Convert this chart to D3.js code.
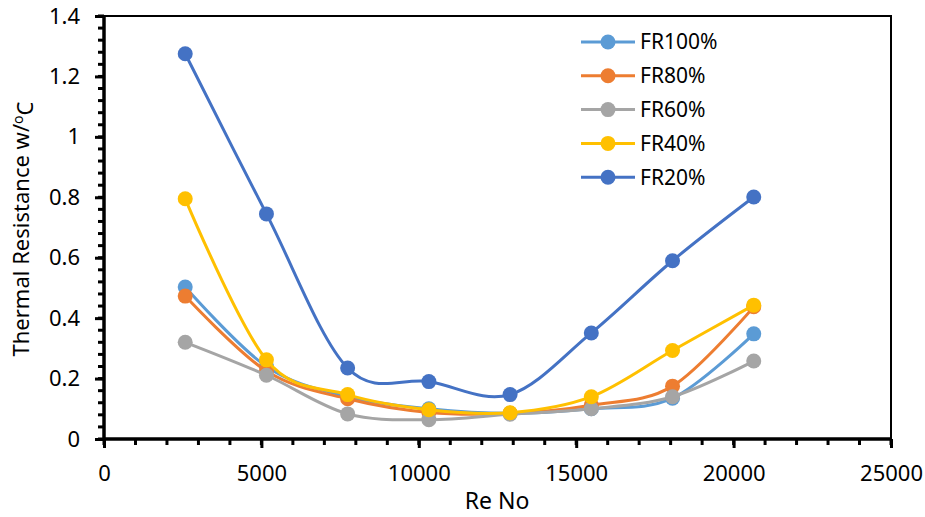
<!DOCTYPE html>
<html>
<head>
<meta charset="utf-8">
<script src="https://cdn.jsdelivr.net/npm/d3@7"></script>
<style>
  body { margin: 0; background: #fff; }
  text { font-family: "Noto Sans", sans-serif; fill: #000; }
</style>
</head>
<body>
<svg id="chart" width="925" height="517"></svg>
<script>
// data
var reNo = [2580, 5160, 7740, 10320, 12900, 15480, 18060, 20640];
var seriesNames = ["FR100%", "FR80%", "FR60%", "FR40%", "FR20%"];
var fr100 = [0.503, 0.240, 0.140, 0.100, 0.085, 0.100, 0.135, 0.348];
var fr80  = [0.473, 0.225, 0.133, 0.088, 0.085, 0.112, 0.175, 0.438];
var fr60  = [0.320, 0.211, 0.083, 0.064, 0.082, 0.100, 0.140, 0.258];
var fr40  = [0.795, 0.262, 0.147, 0.097, 0.087, 0.140, 0.293, 0.443];
var fr20  = [1.275, 0.745, 0.235, 0.190, 0.147, 0.351, 0.590, 0.801];
var xTicks = [0, 5000, 10000, 15000, 20000, 25000];
var yTicks = [0, 0.2, 0.4, 0.6, 0.8, 1, 1.2, 1.4];

var colors = ["#5B9BD5", "#ED7D31", "#A5A5A5", "#FFC000", "#4472C4"];
var allSeries = [fr100, fr80, fr60, fr40, fr20];

var svg = d3.select("#chart");
var mLeft = 104, mRight = 891, mTop = 16, mBottom = 439;

var x = d3.scaleLinear().domain([0, 25000]).range([mLeft, mRight]);
var y = d3.scaleLinear().domain([0, 1.4]).range([mBottom, mTop]);

// frame (top and right)
svg.append("path")
    .attr("d", "M" + mLeft + "," + mTop + "H" + mRight + "V" + mBottom)
    .attr("fill", "none")
    .attr("stroke", "#000")
    .attr("stroke-width", 2);

// minor ticks
var xMinor = d3.range(0, 26).map(function (i) { return i * 1000; });
var yMinor = d3.range(0, 36).map(function (i) { return i * 0.04; });

svg.selectAll(".xminor").data(xMinor).enter().append("line")
    .attr("x1", function (d) { return x(d); })
    .attr("x2", function (d) { return x(d); })
    .attr("y1", mBottom)
    .attr("y2", mBottom + 6)
    .attr("stroke", "#000").attr("stroke-width", 3);

svg.selectAll(".yminor").data(yMinor).enter().append("line")
    .attr("y1", function (d) { return y(d); })
    .attr("y2", function (d) { return y(d); })
    .attr("x1", mLeft)
    .attr("x2", mLeft - 6)
    .attr("stroke", "#000").attr("stroke-width", 3);

// axes
var xAxis = d3.axisBottom(x).tickValues(xTicks).tickSize(9).tickPadding(18).tickFormat(d3.format("d"));
var yAxis = d3.axisLeft(y).tickValues(yTicks).tickSize(9).tickPadding(15).tickFormat(function (d) { return String(+d.toFixed(1)); });

var gx = svg.append("g").attr("transform", "translate(0," + mBottom + ")").call(xAxis);
var gy = svg.append("g").attr("transform", "translate(" + mLeft + ",0)").call(yAxis);

[gx, gy].forEach(function (g) {
    g.select(".domain").remove();
    g.selectAll(".tick line").attr("stroke", "#000").attr("stroke-width", 3);
    g.selectAll(".tick text").style("font-size", "22px").style("font-family", "'Noto Sans', sans-serif").attr("fill", "#000");
});
gx.selectAll(".tick text").attr("dy", "0.7em");

svg.append("line")
    .attr("x1", mLeft).attr("x2", mRight).attr("y1", mBottom).attr("y2", mBottom)
    .attr("stroke", "#000").attr("stroke-width", 3.5);
svg.append("line")
    .attr("x1", mLeft).attr("x2", mLeft).attr("y1", mTop - 1).attr("y2", mBottom + 1)
    .attr("stroke", "#000").attr("stroke-width", 3.5);

// series
var line = d3.line()
    .x(function (d, i) { return x(reNo[i]); })
    .y(function (d) { return y(d); })
    .curve(d3.curveCardinal.tension(0));

allSeries.forEach(function (vals, k) {
    var g = svg.append("g");
    g.append("path")
        .datum(vals)
        .attr("d", line)
        .attr("fill", "none")
        .attr("stroke", colors[k])
        .attr("stroke-width", 3);
    g.selectAll("circle").data(vals).enter().append("circle")
        .attr("cx", function (d, i) { return x(reNo[i]); })
        .attr("cy", function (d) { return y(d); })
        .attr("r", 7.5)
        .attr("fill", colors[k]);
});

// legend
var legend = svg.append("g");
var rows = legend.selectAll("g").data(seriesNames).enter().append("g")
    .attr("transform", function (d, i) { return "translate(0," + (42 + i * 33.8) + ")"; });
rows.append("line")
    .attr("x1", 581).attr("x2", 635)
    .attr("stroke", function (d, i) { return colors[i]; })
    .attr("stroke-width", 3);
rows.append("circle")
    .attr("cx", 608).attr("r", 7.5)
    .attr("fill", function (d, i) { return colors[i]; });
rows.append("text")
    .attr("x", 640).attr("dy", "0.35em")
    .style("font-size", "21px")
    .text(function (d) { return d; });

// axis titles
svg.append("text")
    .attr("x", 497).attr("y", 509)
    .attr("text-anchor", "middle")
    .style("font-size", "23px")
    .text("Re No");

var yt = svg.append("text")
    .attr("transform", "translate(29,229) rotate(-90)")
    .attr("text-anchor", "middle")
    .style("font-size", "22px");
yt.append("tspan").text("Thermal Resistance w/");
yt.append("tspan").attr("dy", "-0.45em").style("font-size", "14px").text("o");
yt.append("tspan").attr("dy", "0.45em").text("C");
</script>
</body>
</html>
